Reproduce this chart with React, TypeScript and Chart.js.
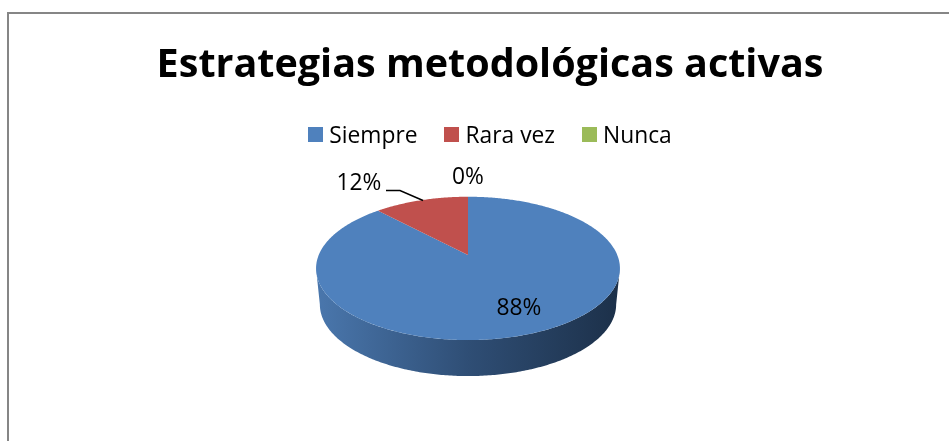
import React, { useEffect, useRef } from "react";
import { Chart, registerables } from "chart.js";

Chart.register(...registerables);

const categories = ["Siempre", "Rara vez", "Nunca"];
const values = [88, 12, 0];
const sliceColors = ["#4F81BD", "#C0504D", "#9BBB59"];
const titleText = "Estrategias metodológicas activas";

const FONT = "'Open Sans', Carlito, Calibri, sans-serif";
const WIDTH = 949;
const HEIGHT = 441;
const LABEL_SIZE = 22.8;

// Perspective of the tilted 3D pie
const PIE_SHIFT_X = -22;
const APEX_SHIFT_Y = -13;
const PERSP = 0.187;
const SCALE_X = 0.982;
const SCALE_Y = 0.455;
const DEPTH = 36;
const BOTTOM_SCALE = 0.975;

// Label centres, in reading order of the slices
const labelCenters = [
  [519, 309],
  [359, 184],
  [468, 178],
];
const leader = [
  [386, 190.5],
  [400, 190.5],
  [423, 200.5],
];

const threeD = {
  id: "threeDPie",
  beforeDatasetsDraw(chart: any) {
    const ctx: CanvasRenderingContext2D = chart.ctx;
    const arcs = chart.getDatasetMeta(0).data;
    const first = arcs[0].getProps(["x", "y", "outerRadius"], true);
    const cx = first.x + PIE_SHIFT_X;
    const cy = first.y + APEX_SHIFT_Y;
    const R = first.outerRadius;
    const project = (a: number) => {
      const u = Math.cos(a);
      const v = -Math.sin(a);
      const d = 1 + PERSP * v;
      return [cx + (R * SCALE_X * u) / d, cy - (R * SCALE_Y * v) / d];
    };

    // Side wall: front part of the rim, from right extreme to left extreme
    const startA = Math.asin(PERSP);
    const endA = Math.PI - startA;
    const rim: number[][] = [];
    const N = 240;
    for (let i = 0; i <= N; i++) rim.push(project(startA + ((endA - startA) * i) / N));
    const grad = ctx.createLinearGradient(cx - R, 0, cx + R, 0);
    grad.addColorStop(0, "#4A77AD");
    grad.addColorStop(0.5, "#2F4E75");
    grad.addColorStop(1, "#1C3049");
    ctx.save();
    ctx.beginPath();
    rim.forEach(([x, y], i) => (i ? ctx.lineTo(x, y) : ctx.moveTo(x, y)));
    for (let i = rim.length - 1; i >= 0; i--) {
      const [x, y] = rim[i];
      ctx.lineTo(cx + (x - cx) * BOTTOM_SCALE, y + DEPTH);
    }
    ctx.closePath();
    ctx.fillStyle = grad;
    ctx.fill();

    // Top face
    arcs.forEach((arc: any) => {
      const { startAngle, endAngle } = arc.getProps(["startAngle", "endAngle"], true);
      if (endAngle - startAngle <= 0) return;
      ctx.beginPath();
      ctx.moveTo(cx, cy);
      const steps = Math.max(2, Math.ceil((endAngle - startAngle) * 90));
      for (let i = 0; i <= steps; i++) {
        const [x, y] = project(startAngle + ((endAngle - startAngle) * i) / steps);
        ctx.lineTo(x, y);
      }
      ctx.closePath();
      ctx.fillStyle = arc.options.backgroundColor;
      ctx.fill();
    });
    ctx.restore();
    return false;
  },
  afterDraw(chart: any) {
    const ctx: CanvasRenderingContext2D = chart.ctx;
    ctx.save();
    // Chart border: only top and left edges are visible
    ctx.strokeStyle = "#868686";
    ctx.lineWidth = 2;
    ctx.beginPath();
    ctx.moveTo(8, HEIGHT);
    ctx.lineTo(8, 13);
    ctx.lineTo(WIDTH, 13);
    ctx.stroke();

    // Legend
    const labels: string[] = chart.data.labels;
    const colors: string[] = chart.data.datasets[0].backgroundColor;
    ctx.font = `${LABEL_SIZE}px ${FONT}`;
    ctx.textBaseline = "middle";
    ctx.textAlign = "left";
    const BOX = 15;
    const GAP = 6;
    const SPACING = 27;
    const widths = labels.map((l) => ctx.measureText(l).width);
    const total = widths.reduce((s, w) => s + w + BOX + GAP, 0) + SPACING * (labels.length - 1);
    let x = 490 - total / 2;
    labels.forEach((l, i) => {
      ctx.fillStyle = colors[i];
      ctx.fillRect(Math.round(x), 127, BOX, BOX);
      ctx.fillStyle = "#000";
      ctx.fillText(l, x + BOX + GAP, 137);
      x += BOX + GAP + widths[i] + SPACING;
    });

    // Data labels
    const data: number[] = chart.data.datasets[0].data;
    const sum = data.reduce((s, v) => s + v, 0);
    ctx.textAlign = "center";
    ctx.fillStyle = "#000";
    data.forEach((v, i) => {
      ctx.fillText(`${Math.round((v / sum) * 100)}%`, labelCenters[i][0], labelCenters[i][1]);
    });

    // Leader line of the 12% label
    ctx.strokeStyle = "#000";
    ctx.lineWidth = 1.5;
    ctx.beginPath();
    leader.forEach(([px, py], i) => (i ? ctx.lineTo(px, py) : ctx.moveTo(px, py)));
    ctx.stroke();
    ctx.restore();
  },
};

export default function App() {
  const ref = useRef<HTMLCanvasElement>(null);
  useEffect(() => {
    const chart = new Chart(ref.current!, {
      type: "pie",
      data: {
        labels: categories,
        datasets: [{ data: values, backgroundColor: sliceColors, borderWidth: 0, radius: 152 }],
      },
      options: {
        responsive: false,
        animation: false,
        layout: { padding: { left: 31, right: 0, top: 0, bottom: 5 } },
        plugins: {
          legend: { display: false },
          tooltip: { enabled: false },
          title: {
            display: true,
            text: titleText,
            color: "#000",
            font: { family: FONT, size: 39.5, weight: "bold", lineHeight: 1.2 },
            padding: { top: 42, bottom: 10.6 },
          },
        },
      },
      plugins: [threeD],
    } as any);
    return () => chart.destroy();
  }, []);
  return (
    <div style={{ position: "absolute", left: 0, top: 0, width: WIDTH, height: HEIGHT, background: "#fff" }}>
      <canvas ref={ref} width={WIDTH} height={HEIGHT} style={{ display: "block" }} />
    </div>
  );
}
